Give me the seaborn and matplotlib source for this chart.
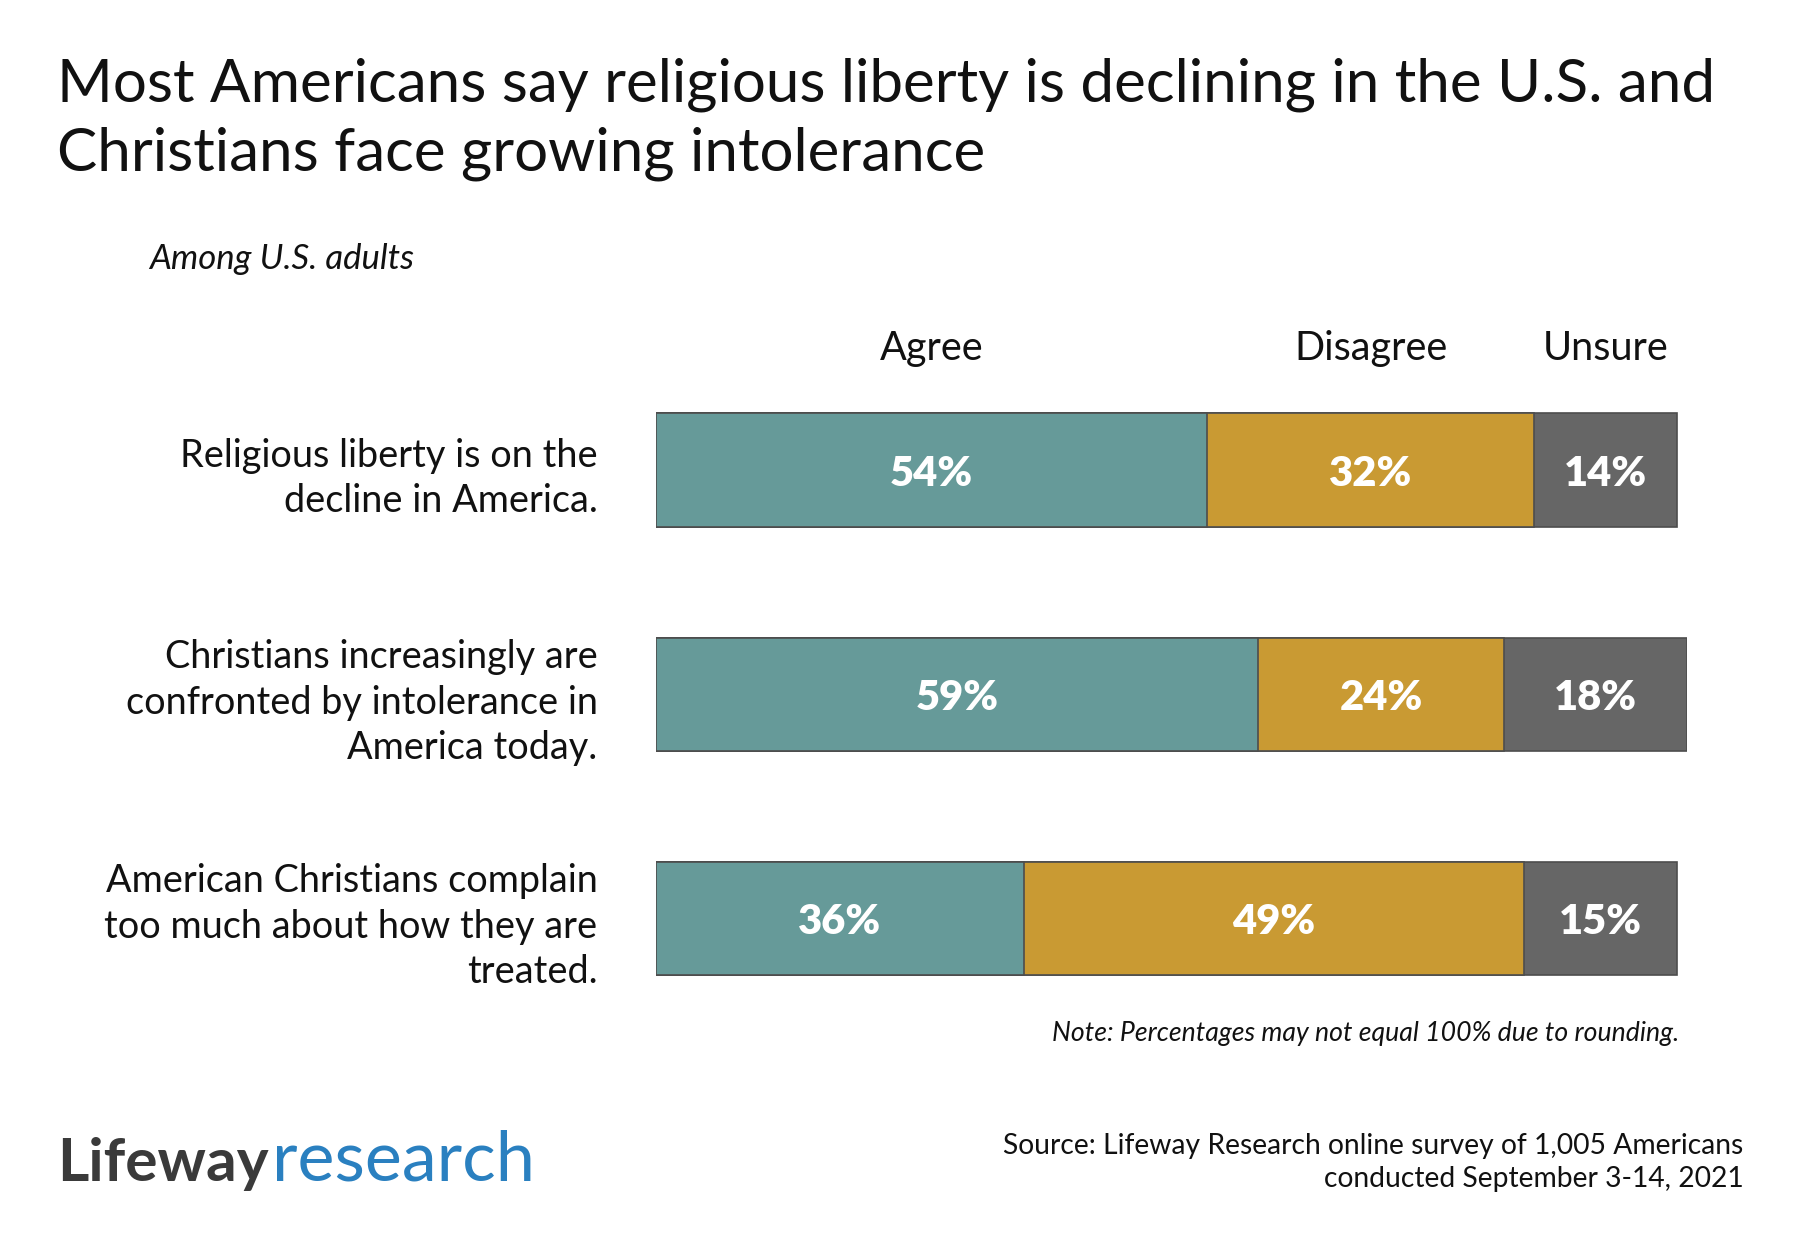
import pandas as pd
import seaborn as sns
import matplotlib.pyplot as plt
from matplotlib.transforms import blended_transform_factory

# data
questions = [
    "Religious liberty is on the\ndecline in America.",
    "Christians increasingly are\nconfronted by intolerance in\nAmerica today.",
    "American Christians complain\ntoo much about how they are\ntreated.",
]
responses = ["Agree", "Disagree", "Unsure"]
agree = [54, 59, 36]
disagree = [32, 24, 49]
unsure = [14, 18, 15]

colors = {"Agree": "#669a99", "Disagree": "#c99a33", "Unsure": "#666666"}

sns.set_style("white")
plt.rcParams["font.family"] = ["Lato", "DejaVu Sans"]

df = pd.DataFrame({"question": questions, "Agree": agree,
                   "Disagree": disagree, "Unsure": unsure})
df["cum_Agree"] = df["Agree"]
df["cum_Disagree"] = df["Agree"] + df["Disagree"]
df["cum_Unsure"] = df["cum_Disagree"] + df["Unsure"]

fig = plt.figure(figsize=(18, 12.54), dpi=100)
ax = fig.add_axes([0.3644, 0.1781, 0.573, 0.5364])

# stacked bars: draw cumulative totals back to front
for resp in reversed(responses):
    sns.barplot(data=df, x="cum_" + resp, y="question", color=colors[resp],
                width=0.507, edgecolor="#4d4d4d", linewidth=1.2,
                saturation=1, ax=ax)

# segment labels
for i, row in df.iterrows():
    start = 0
    for resp in responses:
        val = row[resp]
        ax.text(start + val / 2, i, f"{val}%", ha="center", va="center_baseline",
                color="white", fontsize=30, fontweight="heavy")
        start += val

# column headers over first bar
trans = blended_transform_factory(ax.transData, fig.transFigure)
start = 0
for resp in responses:
    val = df.loc[0, resp]
    ax.text(start + val / 2, 0.7133, resp, transform=trans, ha="center",
            va="baseline", fontsize=28.5, color="#111111")
    start += val

ax.set_xlim(0, 101)
ax.set_ylim(2.5, -0.5)
ax.set_xlabel("")
ax.set_ylabel("")
ax.set_xticks([])
ax.tick_params(axis="y", length=0, pad=42, labelsize=27.3, labelcolor="#111111")
for lbl in ax.get_yticklabels():
    lbl.set_linespacing(1.33)
sns.despine(ax=ax, left=True, bottom=True)

# title and notes
fig.text(0.0319, 0.9194, "Most Americans say religious liberty is declining in the U.S. and",
         fontsize=43.3, color="#111111", va="baseline")
fig.text(0.0319, 0.8644, "Christians face growing intolerance",
         fontsize=43.3, color="#111111", va="baseline")
fig.text(0.083, 0.7857, "Among U.S. adults", fontsize=25, style="italic",
         color="#111111", va="baseline")
fig.text(0.933, 0.170, "Note: Percentages may not equal 100% due to rounding.",
         fontsize=19.2, style="italic", color="#111111", ha="right", va="baseline")
fig.text(0.9687, 0.080, "Source: Lifeway Research online survey of 1,005 Americans",
         fontsize=20.3, color="#111111", ha="right", va="baseline")
fig.text(0.9687, 0.0534, "conducted September 3-14, 2021",
         fontsize=20.3, color="#111111", ha="right", va="baseline")

# logo
fig.text(0.0319, 0.0583, "Lifeway", fontsize=43.5, fontweight="bold",
         color="#3a3a3a", va="baseline")
fig.text(0.1512, 0.0583, "research", fontsize=50.5, color="#2a80c0", va="baseline")

fig.savefig("out.png", dpi=100)
